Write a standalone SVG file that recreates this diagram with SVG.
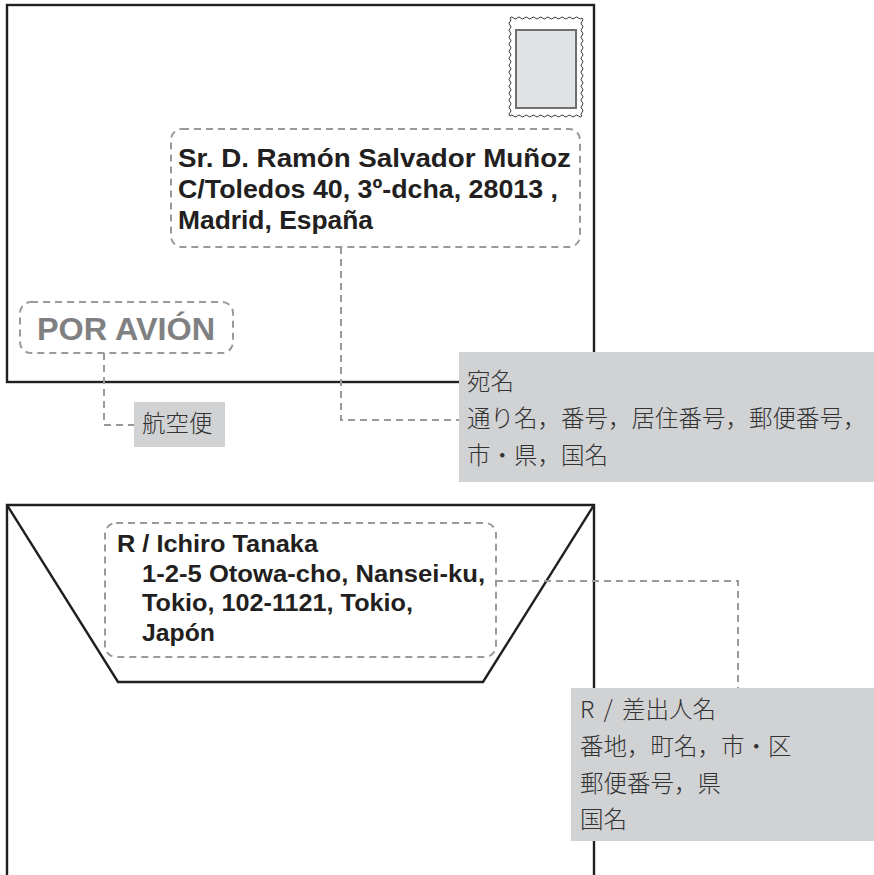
<svg xmlns="http://www.w3.org/2000/svg" width="874" height="875" viewBox="0 0 874 875">
<style>
.env{fill:none;stroke:#231f20;stroke-width:2.4}
.dash{fill:none;stroke:#9a9a9c;stroke-width:2;stroke-dasharray:7 5}
.lab{fill:#d1d2d4}
.en{font-family:"Liberation Sans",Arial,sans-serif;font-weight:bold;fill:#231f20}
.jp{font-family:"Noto Sans CJK JP","Noto Sans CJK SC",sans-serif;font-size:23.5px;font-weight:300;fill:#333333}
</style>
<rect width="874" height="875" fill="#ffffff"/>
<g id="envelope-front">
<rect class="env" x="7" y="5" width="587" height="377"/>
</g>
<g id="stamp">
<path d="M510,18 q1.8,-2 3.6,0 t3.6,0 t3.6,0 t3.6,0 t3.6,0 t3.6,0 t3.6,0 t3.6,0 t3.6,0 t3.6,0 t3.6,0 t3.6,0 t3.6,0 t3.6,0 t3.6,0 t3.6,0 t3.6,0 t3.6,0 t3.6,0 t3.6,0 q2,1.75 0,3.5 t0,3.5 t0,3.5 t0,3.5 t0,3.5 t0,3.5 t0,3.5 t0,3.5 t0,3.5 t0,3.5 t0,3.5 t0,3.5 t0,3.5 t0,3.5 t0,3.5 t0,3.5 t0,3.5 t0,3.5 t0,3.5 t0,3.5 t0,3.5 t0,3.5 t0,3.5 t0,3.5 t0,3.5 t0,3.5 t0,3.5 t0,3.5 q-1.8,2 -3.6,0 t-3.6,0 t-3.6,0 t-3.6,0 t-3.6,0 t-3.6,0 t-3.6,0 t-3.6,0 t-3.6,0 t-3.6,0 t-3.6,0 t-3.6,0 t-3.6,0 t-3.6,0 t-3.6,0 t-3.6,0 t-3.6,0 t-3.6,0 t-3.6,0 t-3.6,0 q-2,-1.75 0,-3.5 t0,-3.5 t0,-3.5 t0,-3.5 t0,-3.5 t0,-3.5 t0,-3.5 t0,-3.5 t0,-3.5 t0,-3.5 t0,-3.5 t0,-3.5 t0,-3.5 t0,-3.5 t0,-3.5 t0,-3.5 t0,-3.5 t0,-3.5 t0,-3.5 t0,-3.5 t0,-3.5 t0,-3.5 t0,-3.5 t0,-3.5 t0,-3.5 t0,-3.5 t0,-3.5 t0,-3.5 Z" fill="#ffffff" stroke="#333333" stroke-width="1"/>
<rect x="516" y="30" width="60" height="78" fill="#e1e2e4" stroke="#6d6e70" stroke-width="2"/>
</g>
<g id="recipient-address">
<rect class="dash" x="171" y="129" width="409" height="118" rx="11"/>
<text class="en" font-size="26.5"><tspan x="178" y="167" textLength="393" lengthAdjust="spacingAndGlyphs">Sr. D. Ramón Salvador Muñoz</tspan><tspan x="178" y="198" textLength="380" lengthAdjust="spacingAndGlyphs">C/Toledos 40, 3º-dcha, 28013 ,</tspan><tspan x="178" y="229" textLength="195" lengthAdjust="spacingAndGlyphs">Madrid, España</tspan></text>
</g>
<g id="por-avion">
<rect class="dash" x="20" y="302" width="213" height="51" rx="11"/>
<text class="en" x="37" y="340" font-size="31.5" style="fill:#808082" textLength="178" lengthAdjust="spacingAndGlyphs">POR AVIÓN</text>
</g>
<g id="envelope-back">
<path class="env" d="M7,875 V505 H594 V875"/>
<path class="env" d="M7,505 L118,682 H483 L594,505"/>
</g>
<g id="sender-address">
<rect class="dash" x="105" y="523" width="391" height="134" rx="11"/>
<text class="en" font-size="24"><tspan x="117" y="552" textLength="201" lengthAdjust="spacingAndGlyphs">R / Ichiro Tanaka</tspan><tspan x="142" y="582" textLength="343" lengthAdjust="spacingAndGlyphs">1-2-5 Otowa-cho, Nansei-ku,</tspan><tspan x="142" y="611" textLength="271" lengthAdjust="spacingAndGlyphs">Tokio, 102-1121, Tokio,</tspan><tspan x="142" y="641" textLength="73" lengthAdjust="spacingAndGlyphs">Japón</tspan></text>
</g>
<g id="connectors">
<path class="dash" d="M341,247 V420 H459"/>
<path class="dash" d="M104,353 V425 H134"/>
<path class="dash" d="M496,581 H738 V688"/>
</g>
<g id="label-recipient">
<rect class="lab" x="459" y="352" width="415" height="130"/>
<text class="jp"><tspan x="467" y="390">宛名</tspan><tspan x="467" y="427">通り名，番号，居住番号，郵便番号，</tspan><tspan x="467" y="464">市・県，国名</tspan></text>
</g>
<g id="label-airmail">
<rect class="lab" x="134" y="402" width="91" height="45"/>
<text class="jp" x="142" y="432">航空便</text>
</g>
<g id="label-sender">
<rect class="lab" x="571" y="688" width="303" height="153"/>
<text class="jp"><tspan x="580" y="718" style="word-spacing:4px">R / 差出人名</tspan><tspan x="580" y="755">番地，町名，市・区</tspan><tspan x="580" y="792">郵便番号，県</tspan><tspan x="580" y="828">国名</tspan></text>
</g>
</svg>
